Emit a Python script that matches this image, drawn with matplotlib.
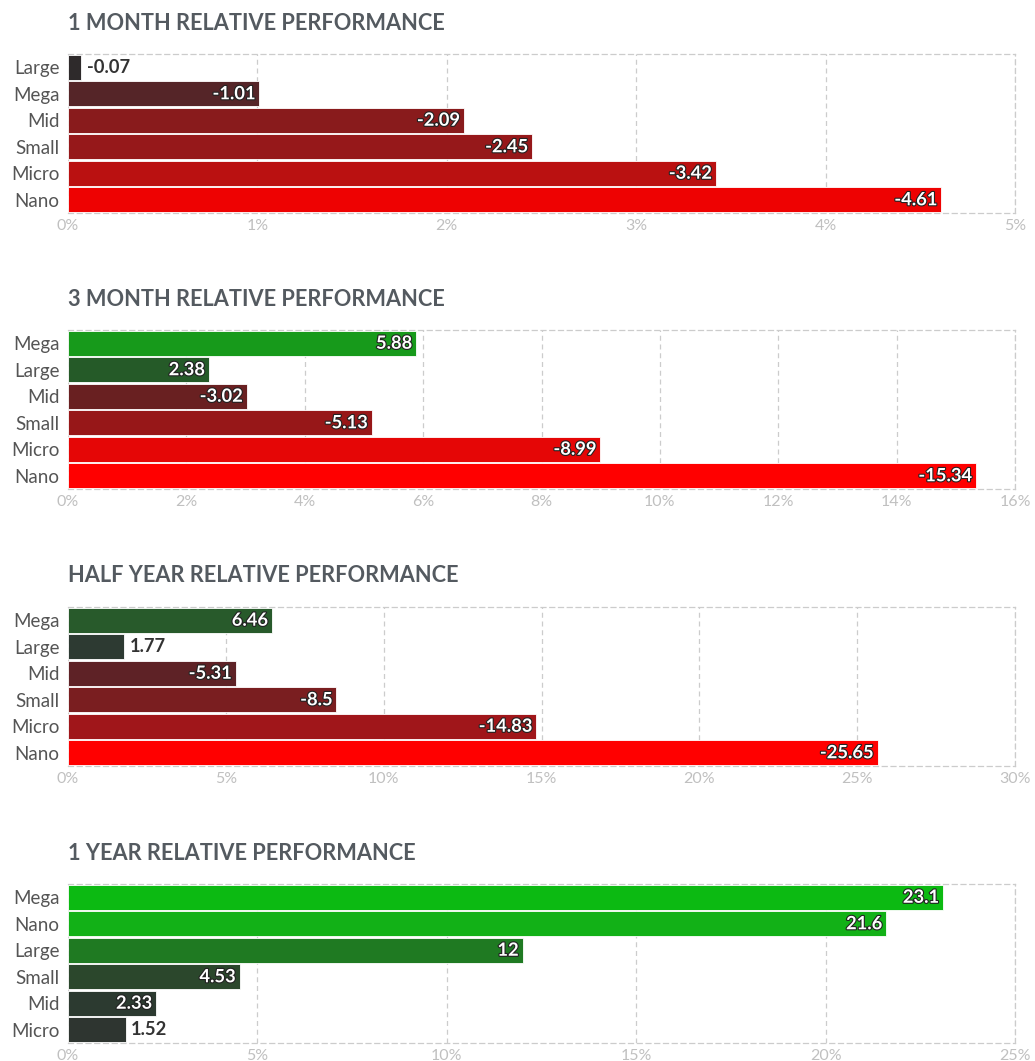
import matplotlib.pyplot as plt
import matplotlib.patheffects as pe
from matplotlib.ticker import FuncFormatter

plt.rcParams['font.family'] = ['Lato', 'DejaVu Sans']

# data for each panel (top row first)
titles = ['1 MONTH RELATIVE PERFORMANCE', '3 MONTH RELATIVE PERFORMANCE',
          'HALF YEAR RELATIVE PERFORMANCE', '1 YEAR RELATIVE PERFORMANCE']
m1_names = ['Large', 'Mega', 'Mid', 'Small', 'Micro', 'Nano']
m1_vals = [-0.07, -1.01, -2.09, -2.45, -3.42, -4.61]
m1_cols = ['#2e2a2b', '#552528', '#891b1c', '#96181a', '#ba1111', '#ee0202']
m3_names = ['Mega', 'Large', 'Mid', 'Small', 'Micro', 'Nano']
m3_vals = [5.88, 2.38, -3.02, -5.13, -8.99, -15.34]
m3_cols = ['#179a1b', '#255a28', '#692021', '#971718', '#e50606', '#ff0000']
hy_names = ['Mega', 'Large', 'Mid', 'Small', 'Micro', 'Nano']
hy_vals = [6.46, 1.77, -5.31, -8.5, -14.83, -25.65]
hy_cols = ['#285a2b', '#2d3a32', '#5e2226', '#7a1e20', '#a0161a', '#ff0000']
y1_names = ['Mega', 'Nano', 'Large', 'Small', 'Mid', 'Micro']
y1_vals = [23.1, 21.6, 12, 4.53, 2.33, 1.52]
y1_cols = ['#0cba12', '#12b117', '#1f7a22', '#2b472c', '#2c3a30', '#2e3530']
xmaxes = [5, 16, 30, 25]
xsteps = [1, 2, 5, 5]

panels = [(m1_names, m1_vals, m1_cols), (m3_names, m3_vals, m3_cols),
          (hy_names, hy_vals, hy_cols), (y1_names, y1_vals, y1_cols)]

W, H = 1035, 1061
fig = plt.figure(figsize=(W / 100, H / 100), dpi=100)

tops = [54, 330, 607, 884]
for k, (names, vals, cols) in enumerate(panels):
    top = tops[k]
    ax = fig.add_axes([68 / W, 1 - (top + 159) / H, (1015 - 68) / W, 159 / H])
    y = list(range(len(names)))
    mags = [abs(v) for v in vals]
    ax.barh(y, mags, height=0.94, color=cols, edgecolor='white', linewidth=0.6, zorder=3)
    ax.set_ylim(len(names) - 0.5, -0.5)
    ax.set_xlim(0, xmaxes[k])
    ax.set_yticks(y)
    ax.set_yticklabels(names, fontsize=13.5, color='#555555')
    ticks = list(range(0, xmaxes[k] + 1, xsteps[k]))
    ax.set_xticks(ticks)
    ax.xaxis.set_major_formatter(FuncFormatter(lambda v, p: f'{v:.0f}%'))
    ax.tick_params(axis='x', labelsize=11.5, labelcolor='#c0c0c0', length=0, pad=4)
    ax.tick_params(axis='y', length=0, pad=6)
    ax.grid(axis='x', color='#cccccc', linestyle=(0, (4, 3)), linewidth=0.9, zorder=0)
    for s in ['top', 'right', 'bottom']:
        ax.spines[s].set_color('#cccccc')
        ax.spines[s].set_linestyle((0, (4, 3)))
        ax.spines[s].set_linewidth(0.9)
    ax.spines['left'].set_visible(False)
    for i, (v, m) in enumerate(zip(vals, mags)):
        lab = f'{v:g}'
        if m / xmaxes[k] > 0.07:
            ax.text(m - xmaxes[k] * 0.004, i, lab, ha='right', va='center',
                    fontsize=13.2, fontweight='bold', color='white', zorder=5,
                    path_effects=[pe.withStroke(linewidth=1.6, foreground='#222222')])
        else:
            ax.text(m + xmaxes[k] * 0.006, i, lab, ha='left', va='center',
                    fontsize=13.2, fontweight='bold', color='#333333', zorder=5)
    fig.text(68 / W, 1 - (top - 31) / H, titles[k], ha='left', va='center',
             fontsize=15.7, fontweight='bold', color='#545a60')

fig.savefig('out.png', dpi=100)
